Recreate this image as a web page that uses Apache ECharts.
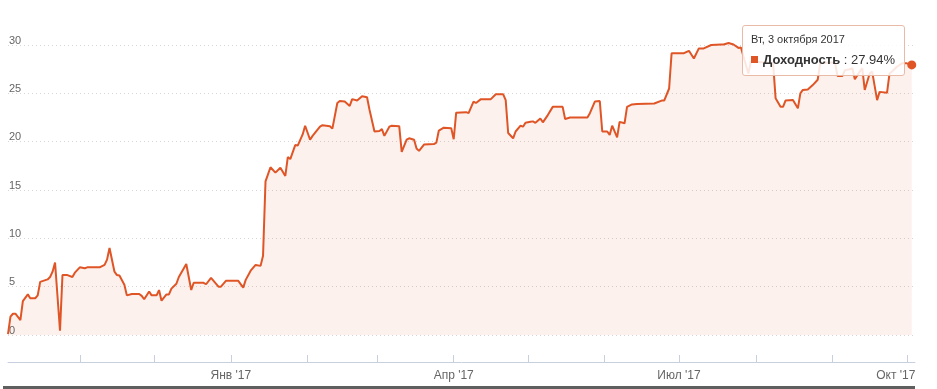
<!DOCTYPE html>
<html><head><meta charset="utf-8">
<script src="https://cdn.jsdelivr.net/npm/echarts@6/dist/echarts.min.js"></script>
<style>html,body{margin:0;padding:0;background:#fff}#c{width:937px;height:389px}</style>
</head><body><div id="c"></div>
<script>
const seriesName = 'Доходность';
const dates = [
'2016-10-03','2016-10-04','2016-10-05','2016-10-06','2016-10-08','2016-10-09','2016-10-11','2016-10-12','2016-10-14','2016-10-15',
'2016-10-16','2016-10-19','2016-10-20','2016-10-21','2016-10-22','2016-10-24','2016-10-25','2016-10-27','2016-10-29','2016-10-30',
'2016-11-01','2016-11-03','2016-11-04','2016-11-06','2016-11-09','2016-11-11','2016-11-12','2016-11-13','2016-11-15','2016-11-16',
'2016-11-17','2016-11-19','2016-11-20','2016-11-22','2016-11-25','2016-11-26','2016-11-27','2016-11-29','2016-11-30','2016-12-02',
'2016-12-03','2016-12-04','2016-12-06','2016-12-07','2016-12-08','2016-12-10','2016-12-11','2016-12-14','2016-12-16','2016-12-17',
'2016-12-21','2016-12-22','2016-12-24','2016-12-27','2016-12-28','2016-12-30','2017-01-04','2017-01-06','2017-01-07','2017-01-09',
'2017-01-11','2017-01-13','2017-01-14','2017-01-15','2017-01-17','2017-01-19','2017-01-21','2017-01-23','2017-01-24','2017-01-25',
'2017-01-27','2017-01-28','2017-01-30','2017-01-31','2017-02-02','2017-02-03','2017-02-06','2017-02-07','2017-02-10','2017-02-11',
'2017-02-13','2017-02-14','2017-02-16','2017-02-18','2017-02-19','2017-02-21','2017-02-23','2017-02-25','2017-02-26','2017-02-28',
'2017-03-02','2017-03-03','2017-03-04','2017-03-06','2017-03-07','2017-03-10','2017-03-11','2017-03-13','2017-03-14','2017-03-16',
'2017-03-17','2017-03-18','2017-03-20','2017-03-24','2017-03-25','2017-03-26','2017-03-28','2017-03-31','2017-04-01','2017-04-02',
'2017-04-06','2017-04-07','2017-04-09','2017-04-10','2017-04-12','2017-04-16','2017-04-18','2017-04-21','2017-04-22','2017-04-23',
'2017-04-25','2017-04-26','2017-04-28','2017-04-29','2017-04-30','2017-05-02','2017-05-03','2017-05-04','2017-05-06','2017-05-07',
'2017-05-09','2017-05-11','2017-05-15','2017-05-16','2017-05-18','2017-05-25','2017-05-26','2017-05-28','2017-05-30','2017-05-31',
'2017-06-02','2017-06-03','2017-06-04','2017-06-06','2017-06-07','2017-06-09','2017-06-10','2017-06-12','2017-06-14','2017-06-21',
'2017-06-24','2017-06-25','2017-06-27','2017-06-28','2017-07-03','2017-07-05','2017-07-07','2017-07-09','2017-07-11','2017-07-14',
'2017-07-18','2017-07-19','2017-07-21','2017-07-23','2017-07-25','2017-07-26','2017-07-29','2017-07-30','2017-07-31','2017-08-08',
'2017-08-09','2017-08-11','2017-08-12','2017-08-13','2017-08-16','2017-08-18','2017-08-19','2017-08-20','2017-08-22','2017-08-24',
'2017-08-26','2017-08-27','2017-08-31','2017-09-02','2017-09-03','2017-09-05','2017-09-06','2017-09-08','2017-09-09','2017-09-10',
'2017-09-12','2017-09-13','2017-09-14','2017-09-16','2017-09-17','2017-09-19','2017-09-20','2017-09-23','2017-09-24','2017-09-25',
'2017-09-27','2017-09-29','2017-10-01','2017-10-03'
];
const values = [
0.1,1.9,2.2,2.2,1.55,3.5,4.2,3.8,3.8,4.1,
5.5,5.75,6.0,6.55,7.5,0.45,6.2,6.2,6.0,6.45,
7.0,6.9,7.0,7.0,7.0,7.25,7.8,9.0,6.55,6.2,
6.15,5.2,4.1,4.25,4.25,4.05,3.7,4.5,4.1,4.1,
4.65,3.55,4.2,4.2,4.8,5.3,6.0,7.35,4.65,5.4,
5.4,5.25,5.9,5.0,5.0,5.6,5.6,4.9,5.7,6.65,
7.25,7.15,8.2,15.9,17.35,16.8,17.3,16.45,18.4,18.2,
19.65,19.6,20.75,21.65,20.2,20.6,21.55,21.7,21.6,21.35,
24.0,24.2,24.15,23.7,24.4,24.25,24.7,24.6,23.3,21.05,
21.1,21.3,20.6,21.55,21.65,21.6,18.95,20.2,20.35,20.2,
19.3,19.05,19.7,19.75,19.9,21.15,21.45,21.4,20.25,23.0,
23.05,22.95,24.15,24.0,24.4,24.4,24.9,24.9,24.3,20.9,
20.35,21.05,21.65,21.55,21.95,22.05,22.1,21.95,22.4,22.0,
22.75,23.6,23.6,22.35,22.5,22.5,22.95,24.15,24.2,21.05,
21.05,20.7,21.65,20.45,22.05,21.9,23.6,23.85,23.9,23.95,
24.25,24.25,25.5,29.15,29.15,29.4,28.6,29.65,29.65,30.0,
30.05,30.05,30.2,30.05,29.7,29.75,27.05,28.3,28.3,28.1,
24.5,23.6,23.6,24.25,24.3,23.45,25.0,25.35,25.4,25.85,
26.4,28.1,28.2,28.2,26.8,26.8,27.4,27.5,27.6,26.45,
27.25,27.6,25.35,27.05,27.25,24.3,25.15,25.05,27.05,27.25,
27.75,28.1,28.1,27.94
];
const yTicks = [0, 5, 10, 15, 20, 25, 30];
const monthTicks = ['2016-11-01','2016-12-01','2017-01-01','2017-02-01','2017-03-01','2017-04-01',
  '2017-05-01','2017-06-01','2017-07-01','2017-08-01','2017-09-01','2017-10-01'];
const quarterTicks = ['2017-01-01','2017-04-01','2017-07-01','2017-10-01'];
const quarterLabels = ["Янв '17", "Апр '17", "Июл '17", "Окт '17"];
const weekdays = ['Вс','Пн','Вт','Ср','Чт','Пт','Сб'];
const monthsGen = ['января','февраля','марта','апреля','мая','июня','июля','августа','сентября','октября','ноября','декабря'];

function toTs(s){ const [y,m,d] = s.split('-').map(Number); return Date.UTC(y, m-1, d); }

const lineColor = '#df5526';
const fillColor = 'rgba(230,80,40,0.08)';
const font = "'Liberation Sans', Arial, sans-serif";
const lastIdx = dates.length - 1;
const DAY = 86400000;
const quarterTs = quarterTicks.map(toTs);

const chart = echarts.init(document.getElementById('c'), null, {renderer: 'canvas'});
chart.setOption({
  animation: false,
  backgroundColor: '#fff',
  grid: {left: 8, right: 22, top: 45, bottom: 54, containLabel: false, outerBoundsMode: 'none'},
  xAxis: {
    type: 'value',
    min: toTs(dates[0]),
    max: toTs(dates[lastIdx]) + 1.3 * DAY,
    offset: 27,
    axisLine: {show: true, onZero: false, lineStyle: {color: '#c8d0e0', width: 1}},
    axisTick: {show: true, inside: true, length: 7, lineStyle: {color: '#c8d0e0'},
      customValues: monthTicks.map(toTs)},
    axisLabel: {
      customValues: quarterTs,
      color: '#666', fontSize: 12, fontFamily: font, margin: 8,
      formatter: function (v) {
        const i = quarterTs.indexOf(v);
        const t = i >= 0 ? quarterLabels[i] : '';
        return i === quarterTs.length - 1 ? '{last|' + t + '}' : t;
      },
      rich: {last: {padding: [0, 22, 0, 0], color: '#666', fontSize: 12, fontFamily: font}}
    },
    splitLine: {show: false}
  },
  yAxis: {
    type: 'value', z: 3, min: yTicks[0], max: yTicks[yTicks.length - 1], interval: yTicks[1] - yTicks[0],
    axisLine: {show: false, onZero: false}, axisTick: {show: false},
    axisLabel: {inside: true, margin: 1, verticalAlign: 'bottom', color: '#666', fontSize: 11,
      fontFamily: font, padding: [0, 0, -1, 0], showMinLabel: true},
    splitLine: {show: true, lineStyle: {color: '#d6d6d6', type: [1, 3], width: 1}}
  },
  tooltip: {
    trigger: 'item', alwaysShowContent: true, transitionDuration: 0,
    position: function (pt) { return [pt[0] - 170, pt[1] - 40]; },
    backgroundColor: 'rgba(255,255,255,0.86)', borderColor: '#e9bba6', borderWidth: 1,
    padding: [6, 9, 7, 8],
    extraCssText: 'box-shadow:none;border-radius:3px;',
    formatter: function (p) {
      const d = new Date(p.value[0]);
      const head = weekdays[d.getUTCDay()] + ', ' + d.getUTCDate() + ' ' + monthsGen[d.getUTCMonth()] + ' ' + d.getUTCFullYear();
      return '<div style="font-family:' + font.replace(/'/g, '') + ';color:#333">' +
        '<div style="font-size:11px;line-height:15px;margin-bottom:4px">' + head + '</div>' +
        '<div style="font-size:13px;line-height:17px;white-space:nowrap">' +
        '<span style="display:inline-block;width:7px;height:7px;background:' + lineColor + ';margin-right:5px;vertical-align:1px"></span>' +
        '<b>' + p.seriesName + '</b> : ' + p.value[1].toFixed(2) + '%</div></div>';
    }
  },
  graphic: [{type: 'rect', left: 3, top: 386, shape: {width: 912, height: 3}, style: {fill: '#5f5f5f'}}],
  series: [{
    type: 'line', name: seriesName,
    data: dates.map((d, i) => [toTs(d), values[i]]),
    showSymbol: true, showAllSymbol: true, symbol: 'circle',
    symbolSize: function (v, p) { return p.dataIndex === lastIdx ? 9 : 0; },
    itemStyle: {color: lineColor, borderWidth: 0},
    lineStyle: {color: lineColor, width: 2},
    areaStyle: {color: fillColor, opacity: 1},
    emphasis: {disabled: true},
    clip: false
  }]
});
chart.dispatchAction({type: 'showTip', seriesIndex: 0, dataIndex: lastIdx});
</script></body></html>
